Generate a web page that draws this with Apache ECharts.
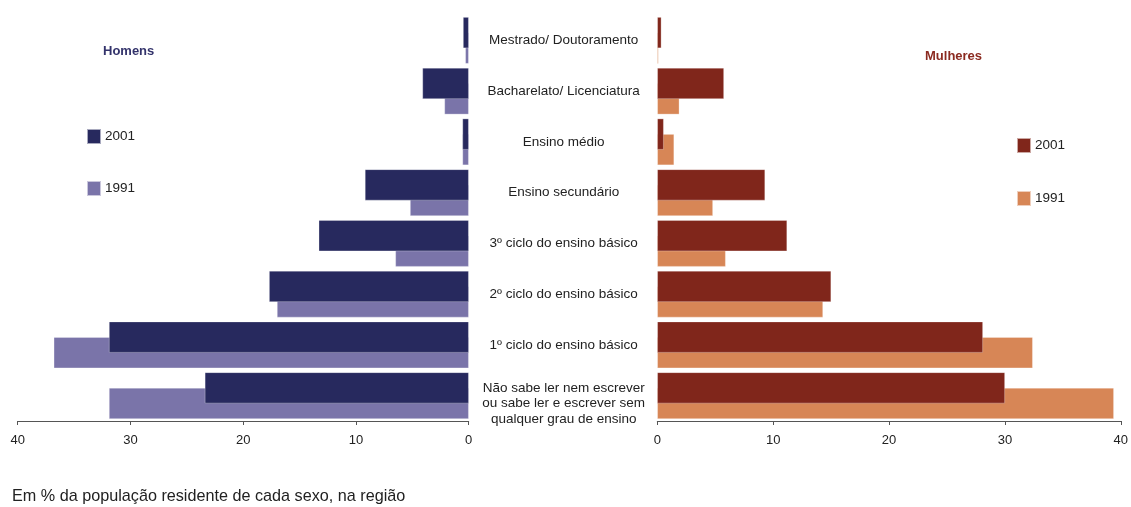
<!DOCTYPE html>
<html><head><meta charset="utf-8">
<script src="https://cdn.jsdelivr.net/npm/echarts@6/dist/echarts.min.js"></script>
<style>html,body{margin:0;padding:0;background:#fff}#c{width:1131px;height:507px}</style>
</head><body><div id="c"></div>
<script>
const categories = [
  'Mestrado/ Doutoramento',
  'Bacharelato/ Licenciatura',
  'Ensino médio',
  'Ensino secundário',
  '3º ciclo do ensino básico',
  '2º ciclo do ensino básico',
  '1º ciclo do ensino básico',
  'Não sabe ler nem escrever\nou sabe ler e escrever sem\nqualquer grau de ensino'
];
const homens2001 = [0.5, 4.1, 0.55, 9.2, 13.3, 17.7, 31.9, 23.4];
const homens1991 = [0.3, 2.15, 0.55, 5.2, 6.5, 17.0, 36.8, 31.9];
const mulheres2001 = [0.35, 5.75, 0.55, 9.3, 11.2, 15.0, 28.1, 30.0];
const mulheres1991 = [0.1, 1.9, 1.45, 4.8, 5.9, 14.3, 32.4, 39.4];
const xTicks = [0, 10, 20, 30, 40];

const C = {h01:'#27295e', h91:'#7a74a9', m01:'#80261b', m91:'#d78656'};
const FONT = 'Liberation Sans, Arial, sans-serif';

const chart = echarts.init(document.getElementById('c'));
function xAxis(gi, inverse){
  return {type:'value', gridIndex:gi, min:xTicks[0], max:xTicks[xTicks.length-1], interval:10, inverse:inverse,
    splitLine:{show:false},
    axisLine:{show:true, lineStyle:{color:'#555', width:1}},
    axisTick:{show:true, length:4, lineStyle:{color:'#555'}},
    axisLabel:{color:'#222', fontSize:13, fontFamily:FONT, margin:13}};
}
function bar(name, gi, data, color, z){
  return {type:'bar', name:name, xAxisIndex:gi, yAxisIndex:gi, data:data, barWidth:31, barGap:'-50%',
    z:z, itemStyle:{color:color, borderColor:'rgba(255,255,255,0.6)', borderWidth:0.5}, animation:false};
}
chart.setOption({
  animation:false,
  textStyle:{fontFamily:FONT},
  grid:[
    {left:17.7, width:451, top:15, height:406},
    {left:657.3, width:463.7, top:15, height:406}
  ],
  xAxis:[xAxis(0,true), xAxis(1,false)],
  yAxis:[
    {type:'category', gridIndex:0, data:categories, inverse:true, position:'right',
      axisLine:{show:false}, axisTick:{show:false},
      axisLabel:{align:'center', margin:95, color:'#222', fontSize:13.5, fontFamily:FONT, lineHeight:15.5,
        formatter: v => v.indexOf('\n') >= 0 ? '\n' + v : v}},
    {type:'category', gridIndex:1, data:categories, inverse:true, position:'left',
      axisLine:{show:false}, axisTick:{show:false}, axisLabel:{show:false}}
  ],
  legend:[
    {orient:'vertical', left:86, top:128, padding:0, itemWidth:14, itemHeight:15, itemGap:35, icon:'rect',
      data:['H 2001','H 1991'], formatter:n=>n.slice(2),
      textStyle:{color:'#222', fontSize:13.5, fontFamily:FONT, padding:[0,0,0,-1]}, selectedMode:false},
    {orient:'vertical', left:1016, top:137, padding:0, itemWidth:14, itemHeight:15, itemGap:36, icon:'rect',
      data:['M 2001','M 1991'], formatter:n=>n.slice(2),
      textStyle:{color:'#222', fontSize:13.5, fontFamily:FONT, padding:[0,0,0,-1]}, selectedMode:false}
  ],
  title:[
    {text:'Homens', left:103, top:45, textStyle:{color:'#33336b', fontSize:13, fontWeight:'bold', fontFamily:FONT}, padding:0},
    {text:'Mulheres', left:925, top:50, textStyle:{color:'#8b2a20', fontSize:13, fontWeight:'bold', fontFamily:FONT}, padding:0},
    {text:'Em % da população residente de cada sexo, na região', left:12, top:489,
      textStyle:{color:'#222', fontSize:16.2, fontWeight:'normal', fontFamily:FONT}, padding:0}
  ],
  series:[
    bar('H 2001', 0, homens2001, C.h01, 3),
    bar('H 1991', 0, homens1991, C.h91, 2),
    bar('M 2001', 1, mulheres2001, C.m01, 3),
    bar('M 1991', 1, mulheres1991, C.m91, 2)
  ]
});
</script></body></html>
